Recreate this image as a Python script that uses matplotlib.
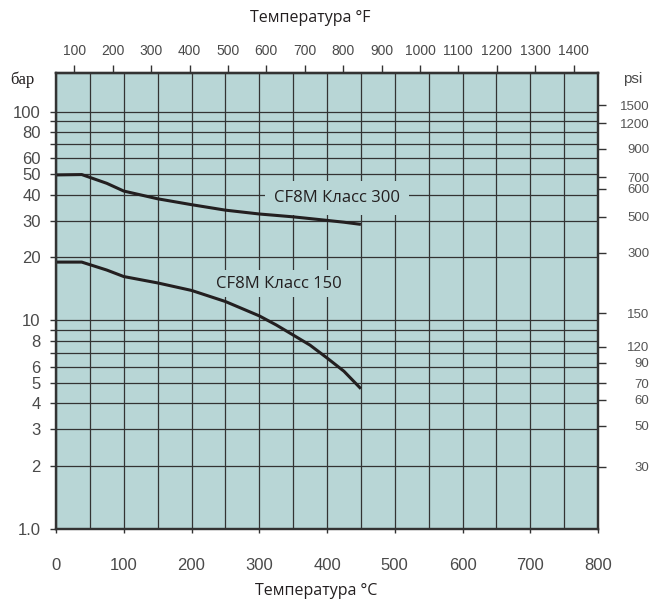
import matplotlib
matplotlib.use('Agg')
import matplotlib.pyplot as plt
from matplotlib.ticker import NullLocator, FixedLocator

# ---- data ----
temp_c = [0, 38, 75, 100, 150, 200, 250, 300, 325, 350, 375, 400, 425, 450]
class300_bar = [49.7, 49.9, 45.3, 41.6, 38.2, 35.8, 33.7, 32.3, 31.8, 31.3, 30.7, 30.1, 29.5, 28.8]
class150_bar = [19.0, 19.0, 17.4, 16.2, 15.1, 13.9, 12.3, 10.5, 9.5, 8.5, 7.6, 6.6, 5.7, 4.7]

bar_grid = [1, 2, 3, 4, 5, 6, 7, 8, 9, 10, 20, 30, 40, 50, 60, 70, 80, 90, 100]
bar_labels = ['1.0', '2', '3', '4', '5', '6', '', '8', '', '10', '20', '30', '40', '50',
              '60', '', '80', '', '100']

psi_labels = ['1500', '1200', '900', '700', '600', '500', '300', '150', '120', '90',
              '70', '60', '50', '30']
psi_pos_bar = [107, 88, 66.3, 48.5, 42.7, 31.4, 21.1, 10.8, 7.48, 6.27, 4.99, 4.15, 3.13, 1.99]

c_ticks = list(range(0, 801, 100))
c_grid_minor = list(range(50, 800, 100))
f_ticks = list(range(100, 1401, 100))

label300 = 'CF8M Класс 300'
label150 = 'CF8M Класс 150'

# mapping of the top (°F) scale as drawn in the reference
F0, C_AT_F0, C_PER_F = 100.0, 27.1, 0.5668


def c2f(c):
    return F0 + (c - C_AT_F0) / C_PER_F


def f2c(f):
    return C_AT_F0 + (f - F0) * C_PER_F


bg = '#b8d6d6'
grid_c = '#333333'
spine_c = '#333333'
num_c = '#4a4a4a'
num_font = 'Liberation Sans'
txt_font = 'Open Sans'

fig = plt.figure(figsize=(6.52, 6.02), dpi=100)
fig.patch.set_facecolor('white')
ax = fig.add_axes([56 / 652, 73 / 602, 542 / 652, 456 / 602])
ax.set_facecolor(bg)
ax.set_xlim(0, 800)
ax.set_yscale('log')
ax.set_ylim(1, 153)
ax.set_axisbelow(True)

ax.yaxis.set_major_locator(FixedLocator(bar_grid))
ax.yaxis.set_minor_locator(NullLocator())
ax.set_yticklabels(bar_labels)
ax.xaxis.set_major_locator(FixedLocator(c_ticks))
ax.xaxis.set_minor_locator(FixedLocator(c_grid_minor))
ax.set_xticklabels([str(v) for v in c_ticks])

ax.grid(True, which='major', axis='both', color=grid_c, lw=0.9)
ax.grid(True, which='minor', axis='x', color=grid_c, lw=0.9)

ax.tick_params(axis='y', which='major', length=4, width=1, color=grid_c, pad=7,
               labelsize=12, labelcolor=num_c)
ax.tick_params(axis='x', which='major', length=3, width=1, color=grid_c, pad=18,
               labelsize=12, labelcolor=num_c)
ax.tick_params(axis='x', which='minor', length=0)
for lab in ax.get_xticklabels() + ax.get_yticklabels():
    lab.set_fontfamily(num_font)

for s in ax.spines.values():
    s.set_color(spine_c)
    s.set_linewidth(1.6)

ax.plot(temp_c, class300_bar, color='#231f20', lw=2.2, zorder=4, solid_capstyle='butt')
ax.plot(temp_c, class150_bar, color='#231f20', lw=2.2, zorder=4, solid_capstyle='butt')

ax.text(415, 38.4, label300, ha='center', va='center', fontsize=12, family=txt_font,
        color='#231f20', zorder=3,
        bbox=dict(boxstyle='square,pad=0.55', fc=bg, ec='none'))
ax.text(329, 15.0, label150, ha='center', va='center', fontsize=12, family=txt_font,
        color='#231f20', zorder=3,
        bbox=dict(boxstyle='square,pad=0.35', fc=bg, ec='none'))

# right psi axis
ax2 = ax.twinx()
ax2.set_yscale('log')
ax2.set_ylim(ax.get_ylim())
ax2.yaxis.set_major_locator(FixedLocator(psi_pos_bar))
ax2.yaxis.set_minor_locator(NullLocator())
ax2.set_yticklabels(psi_labels)
ax2.tick_params(axis='y', length=6, width=1, color=grid_c, pad=31, labelsize=9.5,
                labelcolor='#555555')
for lab in ax2.get_yticklabels():
    lab.set_fontfamily(num_font)
    lab.set_ha('right')
for s in ax2.spines.values():
    s.set_color(spine_c)
    s.set_linewidth(1.6)

# top °F axis
secax = ax.secondary_xaxis('top', functions=(c2f, f2c))
secax.xaxis.set_major_locator(FixedLocator(f_ticks))
secax.xaxis.set_minor_locator(NullLocator())
secax.tick_params(axis='x', length=6, width=1, color=grid_c, pad=5, labelsize=10,
                  labelcolor=num_c)
for lab in secax.get_xticklabels():
    lab.set_fontfamily(num_font)
secax.spines['top'].set_color(spine_c)
secax.spines['top'].set_linewidth(1.6)

fig.text(310 / 652, 1 - 18 / 602, 'Температура °F', ha='center', va='center',
         fontsize=11.5, family=txt_font, color='#231f20')
fig.text(316 / 652, 1 - 591 / 602, 'Температура °C', ha='center', va='center',
         fontsize=11.5, family=txt_font, color='#231f20')
fig.text(22 / 652, 1 - 80 / 602, 'бар', ha='center', va='center',
         fontsize=12, family='Liberation Serif', color='#231f20')
fig.text(633 / 652, 1 - 79 / 602, 'psi', ha='center', va='center',
         fontsize=11, family=num_font, color=num_c)

fig.savefig('out.png', dpi=100, facecolor='white')
